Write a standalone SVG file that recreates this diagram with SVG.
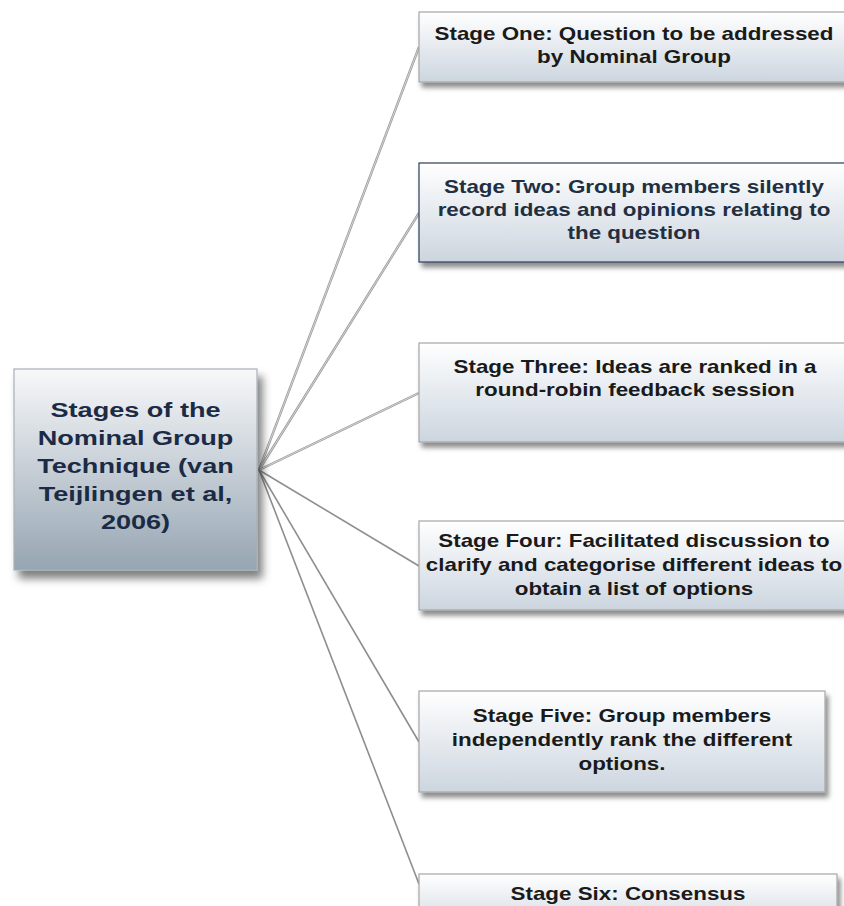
<svg xmlns="http://www.w3.org/2000/svg" width="844" height="906" viewBox="0 0 844 906">
<defs>
<linearGradient id="gStage" x1="0" y1="0" x2="0" y2="1">
<stop offset="0" stop-color="#ffffff"/>
<stop offset="1" stop-color="#ccd5df"/>
</linearGradient>
<linearGradient id="gMain" x1="0" y1="0" x2="0" y2="1">
<stop offset="0" stop-color="#f7f8fa"/>
<stop offset="1" stop-color="#96a5b2"/>
</linearGradient>
<filter id="sh" x="-10%" y="-20%" width="130%" height="150%">
<feDropShadow dx="3" dy="5" stdDeviation="2.5" flood-color="#000" flood-opacity="0.45"/>
</filter>
<filter id="shMain" x="-15%" y="-15%" width="140%" height="140%">
<feDropShadow dx="5" dy="8" stdDeviation="4.5" flood-color="#000" flood-opacity="0.5"/>
</filter>
</defs>
<style>
.stage{fill:url(#gStage);stroke:#a6a6a6;stroke-width:1.2;filter:url(#sh)}
.st{font-family:"Liberation Sans",Arial,sans-serif;font-weight:bold;font-size:18.5px;fill:#1a1a1a;text-anchor:middle}
.mt{font-family:"Liberation Sans",Arial,sans-serif;font-weight:bold;font-size:21px;fill:#1b2b45;text-anchor:middle}
.c1{fill:none;stroke:#9a9a9a;stroke-width:2.4}
.c1i{fill:none;stroke:#eeeeee;stroke-width:0.7}
.c2{fill:none;stroke:#8e8e8e;stroke-width:1.6}
</style>
<rect width="844" height="906" fill="#ffffff"/>
<g id="connectors">
<line class="c1" x1="259" y1="470" x2="419" y2="47"/>
<line class="c1i" x1="259" y1="470" x2="419" y2="47"/>
<line class="c1" x1="259" y1="470" x2="419" y2="213"/>
<line class="c1i" x1="259" y1="470" x2="419" y2="213"/>
<line class="c1" x1="259" y1="470" x2="419" y2="393"/>
<line class="c1i" x1="259" y1="470" x2="419" y2="393"/>
<line class="c2" x1="259" y1="470" x2="419" y2="566"/>
<line class="c2" x1="259" y1="470" x2="419" y2="742"/>
<line class="c2" x1="259" y1="470" x2="419" y2="884"/>
</g>
<g id="main">
<rect x="14" y="369" width="243" height="201" fill="url(#gMain)" stroke="#a9b0b8" stroke-width="1.2" filter="url(#shMain)"/>
<g transform="translate(135.5 0) scale(1.29 1)">
<text class="mt"><tspan x="0" y="417">Stages of the</tspan><tspan x="0" y="445">Nominal Group</tspan><tspan x="0" y="473">Technique (van</tspan><tspan x="0" y="501">Teijlingen et al,</tspan><tspan x="0" y="529">2006)</tspan></text>
</g>
</g>
<g id="stage1">
<rect class="stage" x="419" y="12" width="430" height="70"/>
<g transform="translate(634 0) scale(1.21 1)">
<text class="st"><tspan x="0" y="40">Stage One: Question to be addressed</tspan><tspan x="0" y="63">by Nominal Group</tspan></text>
</g>
</g>
<g id="stage2">
<rect class="stage" x="419" y="163" width="430" height="99" style="stroke:#2c3d5a"/>
<g transform="translate(634 0) scale(1.21 1)">
<text class="st" style="fill:#222f40"><tspan x="0" y="193">Stage Two: Group members silently</tspan><tspan x="0" y="216">record ideas and opinions relating to</tspan><tspan x="0" y="239">the question</tspan></text>
</g>
</g>
<g id="stage3">
<rect class="stage" x="419" y="343" width="430" height="99"/>
<g transform="translate(635 0) scale(1.21 1)">
<text class="st"><tspan x="0" y="373">Stage Three: Ideas are ranked in a</tspan><tspan x="0" y="396">round-robin feedback session</tspan></text>
</g>
</g>
<g id="stage4">
<rect class="stage" x="419" y="521" width="430" height="89"/>
<g transform="translate(634 0) scale(1.21 1)">
<text class="st"><tspan x="0" y="547">Stage Four: Facilitated discussion to</tspan><tspan x="0" y="571">clarify and categorise different ideas to</tspan><tspan x="0" y="595">obtain a list of options</tspan></text>
</g>
</g>
<g id="stage5">
<rect class="stage" x="419" y="691" width="406" height="101"/>
<g transform="translate(622 0) scale(1.21 1)">
<text class="st"><tspan x="0" y="722">Stage Five: Group members</tspan><tspan x="0" y="746">independently rank the different</tspan><tspan x="0" y="770">options.</tspan></text>
</g>
</g>
<g id="stage6">
<rect class="stage" x="419" y="874" width="418" height="60"/>
<g transform="translate(628 0) scale(1.21 1)">
<text class="st"><tspan x="0" y="900">Stage Six: Consensus</tspan></text>
</g>
</g>
</svg>
